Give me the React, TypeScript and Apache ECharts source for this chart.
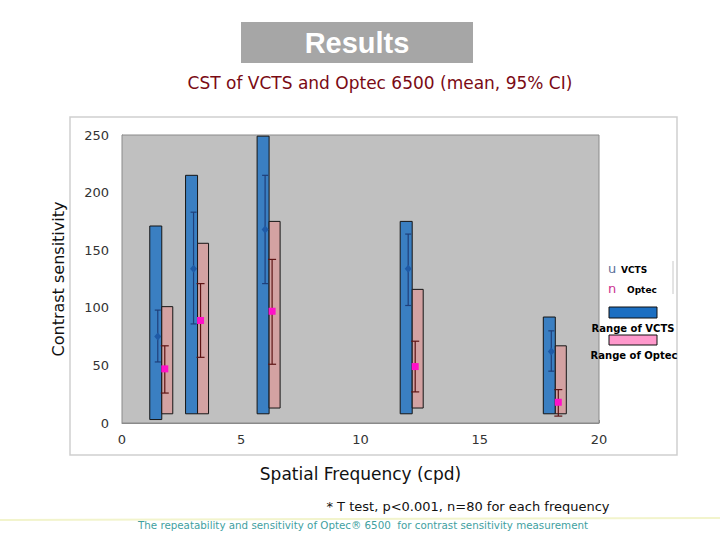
import React, { useEffect, useRef } from "react";
import * as echarts from "echarts";

// Spatial frequencies (cpd)
const freqs = [1.5, 3, 6, 12, 18];
// Range of VCTS (min, max)
const vctsMin = [3, 8, 8, 8, 8];
const vctsMax = [171, 215, 249, 175, 92];
// Range of Optec (min, max)
const optecMin = [8, 8, 13, 13, 8];
const optecMax = [101, 156, 175, 116, 67];
// Means and 95% CI
const vctsMean = [75, 134, 168, 134, 62];
const vctsLo = [53, 86, 121, 102, 45];
const vctsHi = [98, 183, 215, 164, 80];
const optecMean = [47, 89, 97, 49, 18];
const optecLo = [26, 57, 51, 27, 6];
const optecHi = [67, 121, 142, 71, 29];

const xTicks = [0, 5, 10, 15, 20];
const yTicks = [0, 50, 100, 150, 200, 250];

export default function App() {
  const ref = useRef<HTMLDivElement>(null);
  useEffect(() => {
    if (!ref.current) return;
    const chart = echarts.init(ref.current, null, { renderer: "svg" });

    const rangeItem = (x0: number, x1: number, fill: string) => (params: any, api: any) => {
      const f = api.value(0);
      const lo = api.value(1);
      const hi = api.value(2);
      const pHi = api.coord([f, hi]);
      const pLo = api.coord([f, lo]);
      return {
        type: "rect",
        shape: { x: pHi[0] + x0, y: pHi[1], width: x1 - x0, height: pLo[1] - pHi[1] },
        style: { fill, stroke: "#151515", lineWidth: 1 },
      };
    };

    const ciItem = (dx: number, lineColor: string, markColor: string, capW: number, marker: string) => (params: any, api: any) => {
      const f = api.value(0);
      const m = api.coord([f, api.value(1)]);
      const lo = api.coord([f, api.value(2)]);
      const hi = api.coord([f, api.value(3)]);
      const x = m[0] + dx;
      const children: any[] = [
        { type: "line", shape: { x1: x, y1: hi[1], x2: x, y2: lo[1] }, style: { stroke: lineColor, lineWidth: 1.2 } },
        { type: "line", shape: { x1: x - capW, y1: hi[1], x2: x + capW, y2: hi[1] }, style: { stroke: lineColor, lineWidth: 1.2 } },
        { type: "line", shape: { x1: x - capW, y1: lo[1], x2: x + capW, y2: lo[1] }, style: { stroke: lineColor, lineWidth: 1.2 } },
      ];
      if (marker === "diamond") {
        children.push({
          type: "polygon",
          shape: { points: [[x, m[1] - 4], [x + 3.5, m[1]], [x, m[1] + 4], [x - 3.5, m[1]]] },
          style: { fill: markColor },
        });
      } else {
        children.push({
          type: "rect",
          shape: { x: x - 3.5, y: m[1] - 3.5, width: 7, height: 7 },
          style: { fill: markColor },
        });
      }
      return { type: "group", children };
    };

    const option: any = {
      animation: false,
      backgroundColor: "#ffffff",
      grid: {
        left: 122,
        right: 121,
        top: 135,
        bottom: 117,
        show: true,
        backgroundColor: "#c0c0c0",
        borderColor: "#8a8a8a",
        borderWidth: 1,
        z: 1,
      },
      xAxis: {
        type: "value",
        min: xTicks[0],
        max: xTicks[xTicks.length - 1],
        interval: 5,
        name: "Spatial Frequency (cpd)",
        nameLocation: "middle",
        nameGap: 42,
        nameTextStyle: { fontFamily: "DejaVu Sans", fontSize: 17, color: "#111" },
        axisLine: { show: true, lineStyle: { color: "#8a8a8a" } },
        axisTick: { show: true, inside: true, length: 3, lineStyle: { color: "#8a8a8a" } },
        axisLabel: { fontFamily: "DejaVu Sans", fontSize: 13, color: "#333", margin: 10 },
        splitLine: { show: false },
      },
      yAxis: {
        type: "value",
        min: yTicks[0],
        max: yTicks[yTicks.length - 1],
        interval: 50,
        name: "Contrast sensitivity",
        nameLocation: "middle",
        nameGap: 56,
        nameRotate: 90,
        nameTextStyle: { fontFamily: "DejaVu Sans", fontSize: 16, color: "#111" },
        axisLine: { show: true, lineStyle: { color: "#8a8a8a" } },
        axisTick: { show: false },
        axisLabel: { fontFamily: "DejaVu Sans", fontSize: 13, color: "#333", margin: 13 },
        splitLine: { show: true, lineStyle: { color: "#858585", width: 1 } },
      },
      graphic: [
        // chart frame
        {
          type: "rect",
          z: -10,
          shape: { x: 70, y: 117, width: 607, height: 338 },
          style: { fill: "#ffffff", stroke: "#cfcfcf", lineWidth: 1.5 },
        },
        // bottom decorative line
        {
          type: "line",
          z: -20,
          shape: { x1: 0, y1: 520, x2: 720, y2: 518 },
          style: { stroke: "#f2f4cc", lineWidth: 2 },
        },
        // title box
        {
          type: "rect",
          z: 10,
          shape: { x: 241, y: 22, width: 232, height: 41 },
          style: { fill: "#a6a6a6" },
        },
        {
          type: "text",
          z: 11,
          x: 357,
          y: 43,
          style: {
            text: "Results",
            fill: "#ffffff",
            font: "bold 29px 'Liberation Sans', Arial, sans-serif",
            align: "center",
            verticalAlign: "middle",
          },
        },
        {
          type: "text",
          z: 10,
          x: 380,
          y: 83,
          style: {
            text: "CST of VCTS and Optec 6500 (mean, 95% CI)",
            fill: "#7a0a14",
            font: "17px 'DejaVu Sans', sans-serif",
            align: "center",
            verticalAlign: "middle",
          },
        },
        // legend
        {
          type: "text",
          z: 10,
          x: 608,
          y: 268,
          style: { text: "u", fill: "#5a6f9a", font: "13px 'DejaVu Sans', sans-serif", verticalAlign: "middle" },
        },
        {
          type: "text",
          z: 10,
          x: 621,
          y: 270,
          style: { text: "VCTS", fill: "#000", font: "bold 9px 'DejaVu Sans', sans-serif", verticalAlign: "middle" },
        },
        {
          type: "text",
          z: 10,
          x: 608,
          y: 288,
          style: { text: "n", fill: "#cc2f8f", font: "13px 'DejaVu Sans', sans-serif", verticalAlign: "middle" },
        },
        {
          type: "text",
          z: 10,
          x: 627,
          y: 290,
          style: { text: "Optec", fill: "#000", font: "bold 9px 'DejaVu Sans', sans-serif", verticalAlign: "middle" },
        },
        {
          type: "line",
          z: 10,
          shape: { x1: 673, y1: 261, x2: 673, y2: 294 },
          style: { stroke: "#c8c8c8", lineWidth: 1 },
        },
        {
          type: "rect",
          z: 10,
          shape: { x: 609, y: 307, width: 48, height: 11 },
          style: { fill: "#1c6fc2", stroke: "#111", lineWidth: 1 },
        },
        {
          type: "text",
          z: 10,
          x: 633,
          y: 328,
          style: { text: "Range of VCTS", fill: "#000", font: "bold 10px 'DejaVu Sans', sans-serif", align: "center", verticalAlign: "middle" },
        },
        {
          type: "rect",
          z: 10,
          shape: { x: 609, y: 335, width: 48, height: 10 },
          style: { fill: "#ff99cc", stroke: "#111", lineWidth: 1 },
        },
        {
          type: "text",
          z: 10,
          x: 634,
          y: 355,
          style: { text: "Range of Optec", fill: "#000", font: "bold 10px 'DejaVu Sans', sans-serif", align: "center", verticalAlign: "middle" },
        },
        // footnotes
        {
          type: "text",
          z: 10,
          x: 468,
          y: 506,
          style: {
            text: "* T test, p<0.001, n=80 for each frequency",
            fill: "#111",
            font: "13px 'DejaVu Sans', sans-serif",
            align: "center",
            verticalAlign: "middle",
          },
        },
        {
          type: "text",
          z: 10,
          x: 363,
          y: 525,
          style: {
            text: "The repeatability and sensitivity of Optec® 6500  for contrast sensitivity measurement",
            fill: "#3f9f9f",
            font: "10.3px 'DejaVu Sans', sans-serif",
            align: "center",
            verticalAlign: "middle",
          },
        },
      ],
      series: [
        {
          type: "custom",
          name: "Range of VCTS",
          z: 3,
          clip: false,
          renderItem: rangeItem(-8, 4, "#3a7fc2"),
          data: freqs.map((f, i) => [f, vctsMin[i], vctsMax[i]]),
        },
        {
          type: "custom",
          name: "Range of Optec",
          z: 3,
          clip: false,
          renderItem: rangeItem(4, 15, "#d3a2a2"),
          data: freqs.map((f, i) => [f, optecMin[i], optecMax[i]]),
        },
        {
          type: "custom",
          name: "VCTS",
          z: 4,
          clip: false,
          renderItem: ciItem(0, "#1f3f7a", "#1f5aa6", 3, "diamond"),
          data: freqs.map((f, i) => [f, vctsMean[i], vctsLo[i], vctsHi[i]]),
        },
        {
          type: "custom",
          name: "Optec",
          z: 4,
          clip: false,
          renderItem: ciItem(7, "#5e1414", "#ff10c8", 4, "square"),
          data: freqs.map((f, i) => [f, optecMean[i], optecLo[i], optecHi[i]]),
        },
      ],
    };
    chart.setOption(option);
    return () => chart.dispose();
  }, []);

  return (
    <div
      ref={ref}
      style={{ position: "fixed", left: 0, top: 0, width: 720, height: 540 }}
    />
  );
}
